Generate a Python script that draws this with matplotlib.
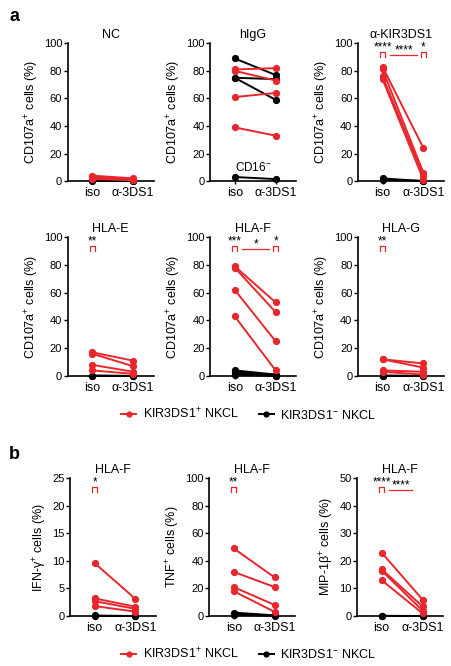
import numpy as np
import matplotlib
matplotlib.use("Agg")
import matplotlib.pyplot as plt
from matplotlib.lines import Line2D

plt.rcParams['font.family'] = ['Liberation Sans', 'DejaVu Sans']
plt.rcParams['mathtext.fontset'] = 'custom'
plt.rcParams['mathtext.rm'] = 'Liberation Sans'
plt.rcParams['mathtext.it'] = 'Liberation Sans'

RED = '#e8262b'
BLK = '#000000'

conds = ['iso', 'α-3DS1']

# ---- data: each pair is (iso, a-3DS1) ----
nc_red = [[4, 2], [3, 1.5], [2, 1], [1.5, 0.8]]
nc_blk = [[0.5, 0.3], [0.3, 0.2]]

higg_red = [[81, 82], [80, 73], [61, 64], [39, 33]]
higg_blk = [[89, 77], [75, 74], [75, 59], [3, 1.5]]

kir_red = [[83, 24], [81, 6], [76, 4], [74, 1]]
kir_blk = [[2, 0], [1, 0.2]]

hlae_red = [[17, 11], [16, 7], [8, 3], [4, 1.5]]
hlae_blk = [[0.3, 0], [0.1, 0]]

hlaf_red = [[79, 53], [78, 46], [62, 25], [43, 4]]
hlaf_blk = [[4, 1], [3, 0.5], [2, 0.2], [1, 0]]

hlag_red = [[12, 9], [12, 6], [4, 3], [3, 1]]
hlag_blk = [[0.3, 0], [0.1, 0]]

ifn_red = [[9.6, 3.1], [3.2, 1.7], [2.7, 1.3], [1.8, 0.8]]
ifn_blk = [[0.1, 0], [0, 0]]

tnf_red = [[49, 28], [32, 21], [21, 8], [18, 3]]
tnf_blk = [[2.5, 0.5], [1.5, 0.5], [1, 0.2]]

mip_red = [[23, 6], [17, 3.5], [16.5, 2], [13, 1]]
mip_blk = [[0.1, 0], [0, 0]]

fig = plt.figure(figsize=(4.52, 6.66), dpi=100)

W = 0.19
lefts = [0.150, 0.465, 0.792]
rows = [(0.728, 0.207), (0.4355, 0.2085), (0.075, 0.207)]


def panel(left, row, title, red, blk, ylab, ymax, ystep):
    b, h = row
    ax = fig.add_axes([left, b, W, h])
    for d in blk:
        ax.plot([0, 1], d, '-o', color=BLK, lw=1.4, ms=4.2, clip_on=False, zorder=3)
    for d in red:
        ax.plot([0, 1], d, '-o', color=RED, lw=1.4, ms=4.2, clip_on=False, zorder=4)
    ax.set_xlim(-0.6, 1.5)
    ax.set_ylim(0, ymax)
    ax.set_yticks(np.arange(0, ymax + 1, ystep))
    ax.set_xticks([0, 1])
    ax.set_xticklabels(conds, fontsize=9)
    ax.tick_params(axis='y', labelsize=8, length=3, width=1, pad=1)
    ax.tick_params(axis='x', length=2.5, width=1, pad=2)
    for s in ['top', 'right']:
        ax.spines[s].set_visible(False)
    for s in ['left', 'bottom']:
        ax.spines[s].set_linewidth(1.2)
    ax.set_ylabel(ylab, fontsize=9, labelpad=2)
    ax.set_title(title, fontsize=9, pad=4)
    return ax


def bracket(ax, x, ymax, stars):
    u = ymax / 100.0
    ax.plot([x - 0.06, x - 0.06, x + 0.06, x + 0.06],
            [90 * u, 93.5 * u, 93.5 * u, 90 * u], color=RED, lw=0.9, clip_on=False)
    ax.text(x, 92.5 * u, stars, ha='center', va='bottom', fontsize=8.5)


def between(ax, x0, x1, ymax, stars):
    u = ymax / 100.0
    ax.plot([x0, x1], [91.5 * u, 91.5 * u], color=RED, lw=0.9, clip_on=False)
    ax.text((x0 + x1) / 2, 90.5 * u, stars, ha='center', va='bottom', fontsize=8.5)


cd107 = 'CD107a$^{+}$ cells (%)'

ax = panel(lefts[0], rows[0], 'NC', nc_red, nc_blk, cd107, 100, 20)

ax = panel(lefts[1], rows[0], 'hIgG', higg_red, higg_blk, cd107, 100, 20)
ax.text(0.45, 5, 'CD16$^{-}$', ha='center', va='bottom', fontsize=8.5)

ax = panel(lefts[2], rows[0], 'α-KIR3DS1', kir_red, kir_blk, cd107, 100, 20)
bracket(ax, 0, 100, '****')
bracket(ax, 1, 100, '*')
between(ax, 0.18, 0.85, 100, '****')

ax = panel(lefts[0], rows[1], 'HLA-E', hlae_red, hlae_blk, cd107, 100, 20)
bracket(ax, 0, 100, '**')

ax = panel(lefts[1], rows[1], 'HLA-F', hlaf_red, hlaf_blk, cd107, 100, 20)
bracket(ax, 0, 100, '***')
bracket(ax, 1, 100, '*')
between(ax, 0.18, 0.85, 100, '*')

ax = panel(lefts[2], rows[1], 'HLA-G', hlag_red, hlag_blk, cd107, 100, 20)
bracket(ax, 0, 100, '**')

ax = panel(0.155, rows[2], 'HLA-F', ifn_red, ifn_blk, 'IFN-γ$^{+}$ cells (%)', 25, 5)
bracket(ax, 0, 25, '*')

ax = panel(0.463, rows[2], 'HLA-F', tnf_red, tnf_blk, 'TNF$^{+}$ cells (%)', 100, 20)
bracket(ax, 0, 100, '**')

ax = panel(0.790, rows[2], 'HLA-F', mip_red, mip_blk, 'MIP-1β$^{+}$ cells (%)', 50, 10)
bracket(ax, 0, 50, '****')
between(ax, 0.18, 0.75, 50, '****')

# legends
handles = [Line2D([], [], color=RED, marker='o', ms=3.5, lw=1.4),
           Line2D([], [], color=BLK, marker='o', ms=3.5, lw=1.4)]
labels = ['KIR3DS1$^{+}$ NKCL', 'KIR3DS1$^{-}$ NKCL']
for y in [0.378, 0.019]:
    fig.legend(handles, labels, loc='center', bbox_to_anchor=(0.55, y), ncol=2,
               frameon=False, fontsize=9, handlelength=1.2, columnspacing=1.6,
               handletextpad=0.5)

fig.text(0.02, 0.975, 'a', fontsize=13, fontweight='bold', va='center')
fig.text(0.02, 0.318, 'b', fontsize=13, fontweight='bold', va='center')

fig.savefig('out.png', dpi=100)
